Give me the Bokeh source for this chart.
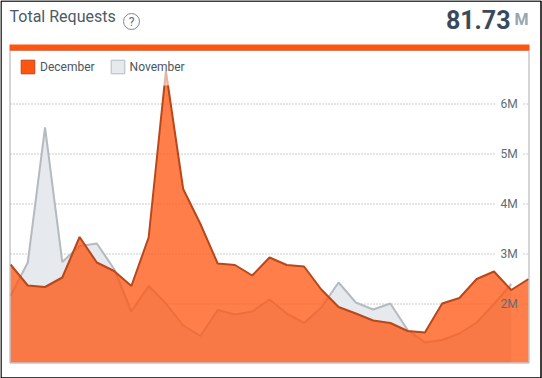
from bokeh.plotting import figure
from bokeh.models import (ColumnDataSource, Range1d, LinearAxis, FixedTicker, PrintfTickFormatter,
                          Legend, LegendItem, Label, BoxAnnotation)
from bokeh.embed import file_html
from bokeh.resources import INLINE

title = "Total Requests"
total = "81.73"
total_unit = "M"
december = [2.79, 2.37, 2.34, 2.53, 3.34, 2.83, 2.66, 2.36, 3.33, 6.66, 4.30, 3.60, 2.81, 2.78, 2.57, 2.93,
            2.78, 2.75, 2.29, 1.94, 1.81, 1.67, 1.62, 1.46, 1.43, 2.01, 2.12, 2.50, 2.65, 2.28, 2.50]
november = [2.16, 2.83, 5.53, 2.84, 3.16, 3.21, 2.70, 1.85, 2.36, 2.01, 1.57, 1.36, 1.88, 1.79, 1.85, 2.09,
            1.81, 1.62, 1.93, 2.43, 2.03, 1.89, 2.01, 1.48, 1.23, 1.28, 1.41, 1.63, 2.00, 2.40]
y_ticks = [2, 3, 4, 5, 6]
dec_days = list(range(1, len(december) + 1))
nov_days = list(range(1, len(november) + 1))

W, H = 542, 378
LEFT, RIGHT, TOP, BOTTOM = 10, 528, 50, 362
PX_PER_DAY = (RIGHT - LEFT) / 30
PX_PER_M = 50
Y_2M = 303.5
BASE = 2 - (BOTTOM - Y_2M) / PX_PER_M

def day_at(px):
    return 1 + (px - LEFT) / PX_PER_DAY

def value_at(py):
    return 2 + (Y_2M - py) / PX_PER_M

ORANGE = "#FF5511"
DARK = "#B8471A"
GREY = "#B4BABF"
LIGHT = "#E6E9ED"
RULE = "#999999"

p = figure(width=W, height=H, output_backend="svg", toolbar_location=None,
           x_range=Range1d(day_at(0), day_at(W)), y_range=Range1d(value_at(H), value_at(0)),
           x_axis_location=None, y_axis_location=None,
           min_border=0, background_fill_color="white", border_fill_color="white", outline_line_color=None)
p.styles = {"position": "absolute", "left": "0", "top": "0"}
p.grid.visible = False

ticker = FixedTicker(ticks=y_ticks)
ax = LinearAxis(ticker=ticker, formatter=PrintfTickFormatter(format="%dM"), level="glyph",
                axis_line_color=None, major_tick_line_color=None, minor_tick_line_color=None,
                major_label_text_font="Roboto", major_label_text_font_size="12px",
                major_label_text_color="#5F6B76", major_label_standoff=-48)
p.add_layout(ax, "right")

grid_style = dict(line_color=RULE, line_dash="1 2", line_width=1)
p.segment(x0=[day_at(LEFT)] * len(y_ticks), x1=[day_at(496)] * len(y_ticks), y0=y_ticks, y1=y_ticks, **grid_style)
p.segment(x0=[day_at(523)] * len(y_ticks), x1=[day_at(RIGHT)] * len(y_ticks), y0=y_ticks, y1=y_ticks, **grid_style)

p.varea(nov_days, [BASE] * len(november), november, fill_color=LIGHT)
p.line(nov_days, november, line_color=GREY, line_width=2)
p.varea(dec_days, [BASE] * len(december), december, fill_color=ORANGE, fill_alpha=0.76)
p.line(dec_days, december, line_color=DARK, line_width=2)

def box(l, r, t, b, **kw):
    p.add_layout(BoxAnnotation(left=l, right=r, top=H - t, bottom=H - b, left_units="screen", right_units="screen",
                               top_units="screen", bottom_units="screen", **kw))

box(10, 195, TOP, 85, fill_color="white", fill_alpha=0.6, line_color=None)
box(LEFT - 0.5, RIGHT + 0.5, TOP, BOTTOM + 0.5, fill_alpha=0, line_color="#ABABAB", line_alpha=1, line_width=1)
box(LEFT - 1, RIGHT + 1, 44, TOP, fill_color=ORANGE, fill_alpha=1, line_color=None)
box(0.5, 540.5, 0.5, 377.5, fill_alpha=0, line_color="black", line_alpha=1, line_width=1.5)
box(123, 139, 13, 29, fill_alpha=0, line_color="#7A8790", line_alpha=1, line_width=1, border_radius=8)

nan = float("nan")
empty = ColumnDataSource(dict(l=[nan], r=[nan], t=[nan], b=[nan]))
key_d = p.quad(left="l", right="r", top="t", bottom="b", source=empty, fill_color=ORANGE, line_color=DARK)
key_n = p.quad(left="l", right="r", top="t", bottom="b", source=empty, fill_color=LIGHT, line_color=GREY)
legend = Legend(items=[LegendItem(label="December", renderers=[key_d]), LegendItem(label="November", renderers=[key_n])],
                orientation="horizontal", location=(19, H - 75), margin=0, padding=0, spacing=14,
                glyph_width=17, glyph_height=17, label_standoff=4, border_line_color=None,
                background_fill_alpha=0,
                label_text_font="Roboto", label_text_font_size="12px", label_text_color="#4A5560")
p.add_layout(legend, "center")

def screen_label(text, x, y, **kw):
    p.add_layout(Label(x=x, y=H - y, x_units="screen", y_units="screen", text=text, text_font="Roboto", **kw))

screen_label(title, 9, 25, text_font_size="16px", text_color="#4D5A66")
screen_label("?", 131, 21, text_font_size="12px", text_color="#5F6C76", text_align="center", text_baseline="middle")
screen_label(total, 510, 28, text_font_size="25px", text_font_style="bold", text_color="#3A4A5A", text_align="right")
screen_label(total_unit, 528, 28, text_font_size="16px", text_font_style="bold", text_color="#98A6B0", text_align="right")

open("out.html", "w").write(file_html(p, INLINE))
